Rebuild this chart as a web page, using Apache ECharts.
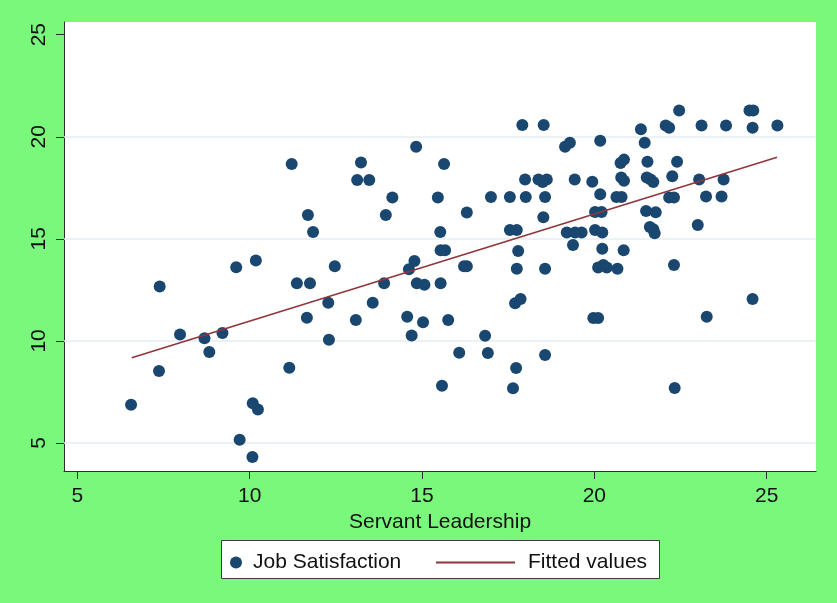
<!DOCTYPE html>
<html>
<head>
<meta charset="utf-8">
<script src="https://cdn.jsdelivr.net/npm/echarts@6/dist/echarts.min.js"></script>
<style>
  html, body { margin: 0; padding: 0; background: #79f87b; }
  #chart { width: 837px; height: 603px; }
</style>
</head>
<body>
<div id="chart"></div>
<script>
// Servant Leadership (x) against Job Satisfaction (y), one entry per respondent
const leadership = [
  6.56, 7.37, 7.39, 7.98, 8.69, 8.83, 9.21, 9.61, 9.71, 10.09, 10.24, 10.08, 10.18,
  11.22, 13.23, 13.12, 13.47, 14.83, 15.64, 14.14, 15.46, 11.69, 13.95, 11.84, 15.53, 16.30,
  12.47, 11.37, 11.75, 13.90, 14.78, 14.62, 14.85, 15.07, 15.54, 15.67, 15.54, 16.22, 16.30,
  12.28, 13.57, 11.66, 13.08, 14.57, 15.03, 15.76, 12.30, 14.70, 11.15, 16.08, 15.58,
  16.83, 16.91, 17.73, 17.64, 18.57, 17.91, 18.53, 19.15, 19.29, 20.17,
  17.99, 18.38, 18.62, 18.50, 19.43, 19.94, 17.00, 17.55, 18.01, 18.57, 18.52,
  20.17, 20.64, 20.79, 20.02, 20.21, 17.55, 17.75, 19.20, 19.44, 19.63, 20.02, 20.23,
  19.38, 17.79, 20.23, 20.85, 17.75, 18.57, 20.11, 20.26, 20.36, 20.67,
  17.70, 17.86, 19.97, 20.11, 20.76, 20.86, 20.78, 20.86,
  21.35, 22.07, 22.17, 22.46, 23.11, 23.82, 24.50, 24.61, 24.59, 25.31,
  21.46, 21.54, 22.40, 21.52, 21.63, 21.71, 22.26, 23.04, 23.75,
  22.17, 22.31, 23.24, 23.69, 21.50, 21.78, 21.61, 21.71, 21.75, 23.00,
  22.31, 24.59, 23.26, 22.33
];
const satisfaction = [
  6.87, 8.53, 12.67, 10.32, 10.13, 9.46, 10.39, 13.61, 5.16, 6.95, 6.64, 4.31, 13.94,
  18.66, 18.74, 17.88, 17.88, 19.51, 18.66, 17.03, 17.03, 16.17, 16.17, 15.34, 15.34, 16.29,
  13.66, 12.82, 12.82, 12.82, 13.92, 13.51, 12.82, 12.75, 14.44, 14.44, 12.82, 13.66, 13.66,
  11.87, 11.87, 11.13, 11.02, 11.18, 10.91, 11.02, 10.06, 10.27, 8.69, 9.42, 7.81,
  10.25, 9.41, 8.68, 7.68, 9.31, 20.57, 20.57, 19.51, 19.71, 19.80,
  17.91, 17.91, 17.91, 17.78, 17.91, 17.80, 17.05, 17.05, 17.05, 17.05, 16.06,
  17.18, 17.05, 17.05, 16.31, 16.31, 15.43, 15.43, 15.31, 15.31, 15.31, 15.43, 15.31,
  14.70, 14.41, 14.51, 14.44, 13.53, 13.53, 13.60, 13.72, 13.60, 13.53,
  11.85, 12.05, 11.12, 11.12, 18.72, 18.88, 18.00, 17.84,
  20.37, 20.55, 20.44, 21.29, 20.55, 20.55, 21.29, 21.29, 20.44, 20.55,
  19.71, 18.78, 18.78, 18.00, 17.91, 17.78, 18.07, 17.91, 17.91,
  17.02, 17.02, 17.07, 17.07, 16.36, 16.30, 15.58, 15.47, 15.27, 15.68,
  13.72, 12.05, 11.18, 7.70
];

// Linear fit, given by its two end points
const fitX = [6.58, 25.30];
const fitY = [9.18, 19.00];

// Axis ticks and horizontal grid positions
const xTicks = [5, 10, 15, 20, 25];
const yTicks = [5, 10, 15, 20, 25];
const yGrid = [5, 10, 15, 20];

const seriesNames = ['Job Satisfaction', 'Fitted values'];
const xTitle = 'Servant Leadership';

const FONT = '"Liberation Sans", Arial, Helvetica, sans-serif';
const INK = '#111111';
const AXIS = '#2e2e2e';
const NAVY = '#1a476f';
const MAROON = '#90353b';

const chart = echarts.init(document.getElementById('chart'), null, { renderer: 'canvas' });

chart.setOption({
  animation: false,
  backgroundColor: '#79f87b',
  grid: {
    left: 64, top: 22, width: 752, height: 449,
    show: true, backgroundColor: '#ffffff', borderWidth: 0,
    outerBoundsMode: 'none'
  },
  xAxis: {
    type: 'value',
    min: 4.614, max: 26.43,
    name: xTitle,
    nameLocation: 'middle',
    nameGap: 32,
    nameTextStyle: { fontFamily: FONT, fontSize: 21, color: INK },
    axisLine: { show: true, onZero: false, lineStyle: { color: AXIS, width: 1 } },
    axisTick: { show: true, length: 8, customValues: xTicks, lineStyle: { color: AXIS, width: 1 } },
    axisLabel: { customValues: xTicks, margin: 15, fontFamily: FONT, fontSize: 21, color: INK },
    splitLine: { show: false }
  },
  yAxis: {
    type: 'value',
    min: 3.63, max: 25.62,
    axisLine: { show: true, onZero: false, lineStyle: { color: AXIS, width: 1 } },
    axisTick: { show: true, length: 8, customValues: yTicks, lineStyle: { color: AXIS, width: 1 } },
    axisLabel: { customValues: yTicks, rotate: 90, margin: 14, fontFamily: FONT, fontSize: 21, color: INK },
    splitLine: { show: false }
  },
  graphic: [{
    type: 'rect',
    left: 221, top: 540, z: 0,
    shape: { width: 438, height: 38 },
    style: { fill: '#ffffff', stroke: '#3c3c3c', lineWidth: 1 }
  }],
  legend: [
    {
      data: [{ name: seriesNames[0], icon: 'circle' }],
      left: 230, top: 552, padding: 0,
      itemWidth: 24, itemHeight: 12,
      selectedMode: false,
      textStyle: { fontFamily: FONT, fontSize: 21, color: INK }
    },
    {
      data: [{ name: seriesNames[1], icon: 'rect' }],
      left: 436, top: 552, padding: 0,
      itemWidth: 79, itemHeight: 2,
      selectedMode: false,
      textStyle: { fontFamily: FONT, fontSize: 21, color: INK, padding: [0, 0, 0, 8] }
    }
  ],
  series: [
    {
      name: seriesNames[0],
      type: 'scatter',
      data: leadership.map((x, i) => [x, satisfaction[i]]),
      symbol: 'circle',
      symbolSize: 12,
      itemStyle: { color: NAVY, opacity: 1 },
      z: 3,
      markLine: {
        silent: true,
        symbol: 'none',
        z: 1,
        label: { show: false },
        lineStyle: { color: '#e6edf1', width: 1.5, type: 'solid' },
        emphasis: { disabled: true },
        data: yGrid.map(v => ({ yAxis: v }))
      }
    },
    {
      name: seriesNames[1],
      type: 'line',
      data: fitX.map((x, i) => [x, fitY[i]]),
      symbol: 'none',
      showSymbol: false,
      lineStyle: { color: MAROON, width: 1.6 },
      itemStyle: { color: MAROON },
      z: 4
    }
  ]
});
</script>
</body>
</html>
